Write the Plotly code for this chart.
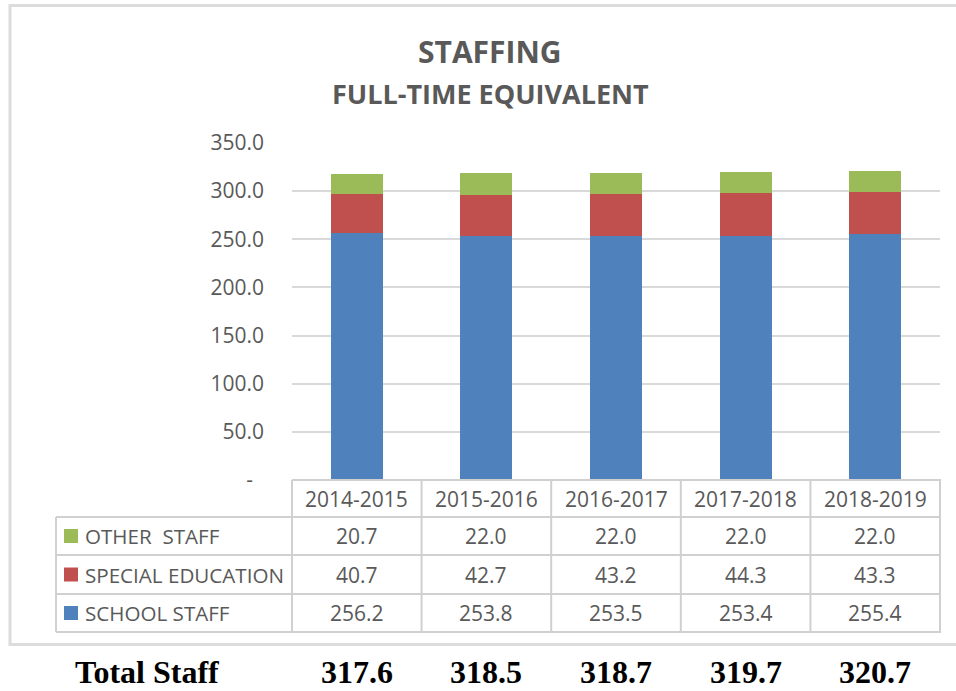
import plotly.graph_objects as go

# ---- data ----
years = ["2014-2015", "2015-2016", "2016-2017", "2017-2018", "2018-2019"]
school_staff = [256.2, 253.8, 253.5, 253.4, 255.4]
special_education = [40.7, 42.7, 43.2, 44.3, 43.3]
other_staff = [20.7, 22.0, 22.0, 22.0, 22.0]
series_names = ["OTHER  STAFF", "SPECIAL EDUCATION", "SCHOOL STAFF"]
y_ticks = [0, 50, 100, 150, 200, 250, 300, 350]
y_tick_labels = ["-\u00a0\u00a0", "50.0", "100.0", "150.0", "200.0", "250.0", "300.0", "350.0"]
title_main = "STAFFING"
title_sub = "FULL-TIME EQUIVALENT"
total_label = "Total Staff"

# ---- styling ----
W, H = 956, 691
BLUE, RED, GREEN = "#4f81bd", "#c0504d", "#9bbb59"
TXT = "#595959"
GRID = "#d9d9d9"
LINE = "#d0d0d0"
FONT = "Open Sans"

def px(x):
    return x / W

def py(y):
    return 1 - y / H

plot_x0, plot_x1 = 292, 940
plot_y_top, plot_y_bot = 143, 480
row_edges = [480, 517, 555, 594, 632]
left_col_x = 56

fig = go.Figure()
for name, vals, col in [("SCHOOL STAFF", school_staff, BLUE),
                        ("SPECIAL EDUCATION", special_education, RED),
                        ("OTHER  STAFF", other_staff, GREEN)]:
    fig.add_trace(go.Bar(x=years, y=vals, name=name, marker=dict(color=col, line=dict(width=0)),
                         width=0.4, showlegend=False, hoverinfo="y"))

shapes = []
annotations = []

# outer border
shapes.append(dict(type="rect", xref="paper", yref="paper", x0=px(10), x1=px(965), y0=py(5.5), y1=py(644.5),
                   line=dict(color="#dcdcdc", width=3), fillcolor="rgba(0,0,0,0)", layer="below"))

# table lines
cat_w = (plot_x1 - plot_x0) / len(years)
col_edges = [plot_x0 + i * cat_w for i in range(len(years) + 1)]
for i, ye in enumerate(row_edges):
    x0 = plot_x0 if i == 0 else left_col_x
    shapes.append(dict(type="line", xref="paper", yref="paper", x0=px(x0), x1=px(plot_x1 + 1),
                       y0=py(ye), y1=py(ye), line=dict(color=LINE, width=2)))
for xe in col_edges:
    shapes.append(dict(type="line", xref="paper", yref="paper", x0=px(xe), x1=px(xe),
                       y0=py(row_edges[0]), y1=py(row_edges[-1]), line=dict(color=LINE, width=2)))
shapes.append(dict(type="line", xref="paper", yref="paper", x0=px(left_col_x), x1=px(left_col_x),
                   y0=py(row_edges[1]), y1=py(row_edges[-1]), line=dict(color=LINE, width=2)))

# header row
hdr_c = (row_edges[0] + row_edges[1]) / 2
for yr in years:
    annotations.append(dict(x=yr, xref="x", y=py(hdr_c), yref="paper", text=yr, showarrow=False,
                            font=dict(family=FONT, size=21, color=TXT), xanchor="center", yanchor="middle"))

# data rows
rows = [(series_names[0], other_staff, GREEN),
        (series_names[1], special_education, RED),
        (series_names[2], school_staff, BLUE)]
for r, (name, vals, col) in enumerate(rows):
    yc = (row_edges[r + 1] + row_edges[r + 2]) / 2
    shapes.append(dict(type="rect", xref="paper", yref="paper", x0=px(64), x1=px(78),
                       y0=py(yc - 7), y1=py(yc + 7), line=dict(width=0), fillcolor=col))
    annotations.append(dict(x=px(83), xref="paper", y=py(yc), yref="paper", text=name.replace(" ", "\u00a0"),
                            showarrow=False, font=dict(family=FONT, size=20.6, color=TXT),
                            xanchor="left", yanchor="middle"))
    for yr, v in zip(years, vals):
        annotations.append(dict(x=yr, xref="x", y=py(yc), yref="paper", text=f"{v:.1f}", showarrow=False,
                                font=dict(family=FONT, size=21, color=TXT), xanchor="center", yanchor="middle"))

# totals row
totals = [a + b + c for a, b, c in zip(school_staff, special_education, other_staff)]
annotations.append(dict(x=px(73), xref="paper", y=py(672), yref="paper", text=f"<b>{total_label}</b>",
                        showarrow=False, font=dict(family="Liberation Serif", size=32, color="#000000"),
                        xanchor="left", yanchor="middle"))
for yr, t in zip(years, totals):
    annotations.append(dict(x=yr, xref="x", y=py(672), yref="paper", text=f"<b>{t:.1f}</b>",
                            showarrow=False, font=dict(family="Liberation Serif", size=32, color="#000000"),
                            xanchor="center", yanchor="middle"))

# titles
annotations.append(dict(x=px(490), xref="paper", y=py(51), yref="paper", text=f"<b>{title_main}</b>",
                        showarrow=False, font=dict(family=FONT, size=30, color=TXT),
                        xanchor="center", yanchor="middle"))
annotations.append(dict(x=px(491), xref="paper", y=py(94), yref="paper", text=f"<b>{title_sub}</b>",
                        showarrow=False, font=dict(family=FONT, size=27, color=TXT),
                        xanchor="center", yanchor="middle"))

fig.update_layout(
    template="none",
    width=W, height=H, autosize=False,
    margin=dict(l=0, r=0, t=0, b=0, pad=0, autoexpand=False),
    paper_bgcolor="white", plot_bgcolor="white",
    barmode="stack", bargap=0.6,
    xaxis=dict(domain=[px(plot_x0), px(plot_x1)], showticklabels=False, showgrid=False, zeroline=False,
               showline=False, ticks="", fixedrange=True, automargin=False),
    yaxis=dict(domain=[py(plot_y_bot), py(plot_y_top)], range=[0, 350], tickvals=y_ticks, ticktext=y_tick_labels,
               showgrid=True, gridcolor=GRID, gridwidth=2, zeroline=False, showline=False, ticks="",
               ticklabelstandoff=27, tickfont=dict(family=FONT, size=21, color=TXT), fixedrange=True,
               automargin=False),
    shapes=shapes, annotations=annotations,
)

post = (
    "document.body.style.margin='0';document.body.style.overflow='hidden';"
)
fig.write_html("out.html", config={"displayModeBar": False}, post_script=post)
